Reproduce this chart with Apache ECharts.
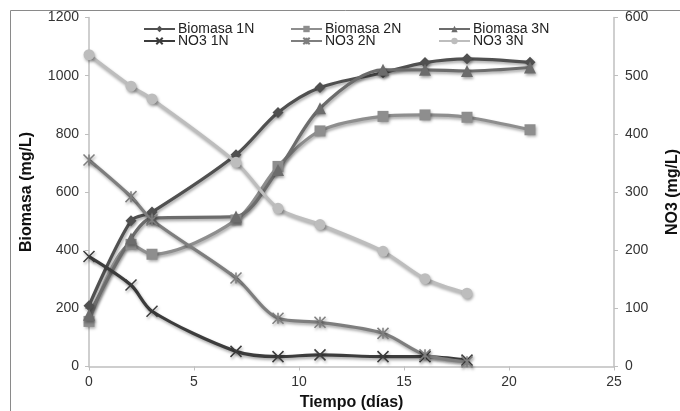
<!DOCTYPE html>
<html>
<head>
<meta charset="utf-8">
<script src="https://cdn.jsdelivr.net/npm/echarts@6/dist/echarts.min.js"></script>
<style>html,body{margin:0;padding:0;background:#fff}#c{width:680px;height:411px}</style>
</head>
<body>
<div id="c"></div>
<script>
var days = [0, 2, 3, 7, 9, 11, 14, 16, 18, 21];
var bio1N = [209, 501, 531, 728, 873, 959, 1010, 1045, 1058, 1046];
var bio2N = [155, 420, 386, 504, 688, 810, 860, 865, 857, 814];
var bio3N = [178, 440, 510, 516, 676, 888, 1020, 1020, 1016, 1028];
var noDays = [0, 2, 3, 7, 9, 11, 14, 16, 18];
var no3_1N = [189, 140, 95, 26, 17, 20, 17, 17, 11];
var no3_2N = [355, 292, 252, 152, 83, 76, 57, 20, 8];
var no3_3N = [536, 482, 460, 351, 272, 244, 198, 151, 126];
var xTicks = [0, 5, 10, 15, 20, 25];

function pairs(xs, ys) { return xs.map(function (x, i) { return [x, ys[i]]; }); }

var FONT = 'Liberation Sans, Arial, sans-serif';
var crossPath = 'path://M0,0L10,10M10,0L0,10';
var starPath = 'path://M0,0L10,10M10,0L0,10M5,0L5,10';

function ser(name, xs, ys, yIdx, color, symbol, size, stroke) {
  var s = {
    name: name, type: 'line', yAxisIndex: yIdx, data: pairs(xs, ys),
    smooth: 0.3, symbol: symbol, symbolSize: size, showSymbol: true,
    lineStyle: { color: color, width: 3.2, shadowBlur: 3, shadowColor: 'rgba(0,0,0,0.35)', shadowOffsetY: 2, shadowOffsetX: 1 },
    itemStyle: { color: color, shadowBlur: 3, shadowColor: 'rgba(0,0,0,0.35)', shadowOffsetY: 2, shadowOffsetX: 1 },
    emphasis: { disabled: true }, z: 2
  };
  if (stroke) {
    s.itemStyle.color = 'rgba(0,0,0,0)';
    s.itemStyle.borderColor = color;
    s.itemStyle.borderWidth = 1.5;
  }
  return s;
}

var names = ['Biomasa 1N', 'Biomasa 2N', 'Biomasa 3N', 'NO3 1N', 'NO3 2N', 'NO3 3N'];
var legPos = [[143, 21], [290, 21], [438, 21], [143, 33], [290, 33], [438, 33]];
var legends = names.map(function (n, i) {
  return {
    data: [n], left: legPos[i][0], top: legPos[i][1] + 1, itemWidth: 31, itemHeight: 8, itemGap: 4,
    padding: 0, textStyle: { fontFamily: FONT, fontSize: 14, color: '#222', padding: [0, 0, 0, -2] },
    selectedMode: false
  };
});

var option = {
  animation: false,
  backgroundColor: '#fff',
  graphic: [{ type: 'rect', shape: { x: 10.5, y: 10.5, width: 700, height: 450 }, style: { fill: 'none', stroke: '#8a8a8a', lineWidth: 1 }, silent: true, z: -1 }],
  legend: legends,
  grid: { left: 89, right: 66, top: 17.5, bottom: 44.5, containLabel: false, outerBoundsMode: 'none' },
  xAxis: {
    type: 'value', min: 0, max: 25, interval: 5,
    name: 'Tiempo (días)', nameLocation: 'middle', nameGap: 28,
    nameTextStyle: { fontFamily: FONT, fontSize: 16, fontWeight: 'bold', color: '#111' },
    axisLine: { show: true, lineStyle: { color: '#bfbfbf', width: 1.5 } },
    axisTick: { show: true, length: 4, lineStyle: { color: '#bfbfbf' } },
    axisLabel: { fontFamily: FONT, fontSize: 14, color: '#333', margin: 9,
      formatter: function (v) { return xTicks.indexOf(v) >= 0 ? String(v) : ''; } },
    splitLine: { show: false }
  },
  yAxis: [{
    type: 'value', min: 0, max: 1200, interval: 200, position: 'left',
    name: 'Biomasa (mg/L)', nameLocation: 'middle', nameGap: 54, nameRotate: 90,
    nameTextStyle: { fontFamily: FONT, fontSize: 16, fontWeight: 'bold', color: '#111' },
    axisLine: { show: true, lineStyle: { color: '#bfbfbf', width: 1.5 } },
    axisTick: { show: true, length: 4, lineStyle: { color: '#bfbfbf' } },
    axisLabel: { fontFamily: FONT, fontSize: 14, color: '#333', margin: 10,
      formatter: function (v) { return String(v); } },
    splitLine: { show: false }
  }, {
    type: 'value', min: 0, max: 600, interval: 100, position: 'right',
    name: 'NO3 (mg/L)', nameLocation: 'middle', nameGap: 51, nameRotate: 90,
    nameTextStyle: { fontFamily: FONT, fontSize: 16, fontWeight: 'bold', color: '#111' },
    axisLine: { show: true, lineStyle: { color: '#bfbfbf', width: 1.5 } },
    axisTick: { show: true, length: 4, lineStyle: { color: '#bfbfbf' } },
    axisLabel: { fontFamily: FONT, fontSize: 14, color: '#333', margin: 11,
      formatter: function (v) { return String(v); } },
    splitLine: { show: false }
  }],
  series: [
    ser('Biomasa 1N', days, bio1N, 0, '#505050', 'diamond', 11),
    ser('Biomasa 2N', days, bio2N, 0, '#8e8e8e', 'rect', 11),
    ser('Biomasa 3N', days, bio3N, 0, '#6c6c6c', 'triangle', 12),
    ser('NO3 1N', noDays, no3_1N, 1, '#3c3c3c', crossPath, 11, true),
    ser('NO3 2N', noDays, no3_2N, 1, '#7e7e7e', starPath, 11, true),
    ser('NO3 3N', noDays, no3_3N, 1, '#bdbdbd', 'circle', 11)
  ]
};
var chart = echarts.init(document.getElementById('c'), null, { renderer: 'canvas' });
chart.setOption(option);
</script>
</body>
</html>
